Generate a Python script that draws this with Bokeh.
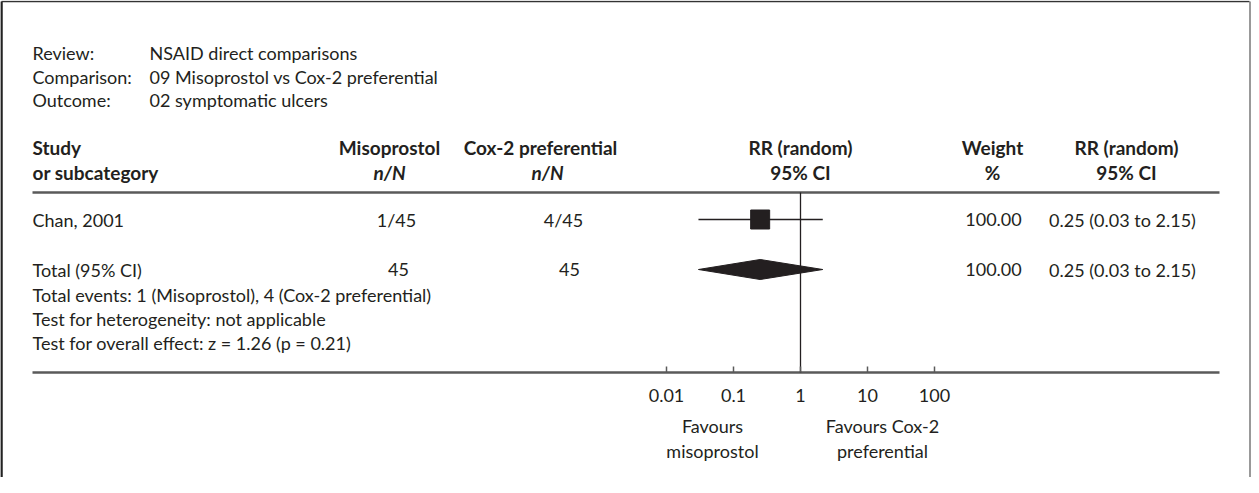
from bokeh.plotting import figure
from bokeh.models import Range1d, LogScale
from bokeh.embed import file_html
from bokeh.resources import INLINE
from bokeh.core.properties import value

# ---- data ----
meta_labels = ["Review:", "Comparison:", "Outcome:"]
meta_values = ["NSAID direct comparisons", "09 Misoprostol vs Cox-2 preferential", "02 symptomatic ulcers"]

studies = ["Chan, 2001"]
miso_nN = ["1/45"]
cox_nN = ["4/45"]
study_rr = [0.25]
study_lo = [0.03]
study_hi = [2.15]
study_weight = ["100.00"]
study_ci_text = ["0.25 (0.03 to 2.15)"]

total_label = "Total (95% CI)"
total_miso = ["45"]
total_cox = ["45"]
pooled_rr = [0.25]
pooled_lo = [0.03]
pooled_hi = [2.15]
pooled_weight = ["100.00"]
pooled_ci_text = ["0.25 (0.03 to 2.15)"]

footnotes = ["Total events: 1 (Misoprostol), 4 (Cox-2 preferential)",
             "Test for heterogeneity: not applicable",
             "Test for overall effect: z = 1.26 (p = 0.21)"]

tick_vals = [0.01, 0.1, 1, 10, 100]
tick_labels = ["0.01", "0.1", "1", "10", "100"]

# ---- layout ----
FONT = value("Lato")
FS = "18px"
FSB = "19px"
TXT = "#231f20"
RULE = "#5a5a5a"

W, H = 1251, 477
p = figure(width=W, height=H, x_range=Range1d(8, 8 + W), y_range=Range1d(8 + H, 8),
           output_backend="svg", toolbar_location=None, min_border=0)
p.axis.visible = False
p.grid.visible = False
p.outline_line_color = None
p.background_fill_color = "white"

# log scale for the forest plot: 1 at x=808, 67 px per decade
ppd, x1 = 67.0, 808.0
p.extra_x_ranges = {"log": Range1d(10 ** ((8 - x1) / ppd), 10 ** ((8 + W - x1) / ppd))}
p.extra_x_scales = {"log": LogScale()}

def txt(x, y, t, align="left", style="normal", x_range_name="default", size=None):
    if size is None:
        size = FSB if "bold" in style else FS
    p.text(x=x, y=y, text=t, text_font=FONT, text_font_size=size, text_align=align,
           text_baseline="middle", text_color=TXT, text_font_style=style,
           x_range_name=x_range_name)

# frame
p.segment(x0=[9], x1=[9], y0=[9], y1=[8 + H], line_color="#222222", line_width=2.5)
p.segment(x0=[9], x1=[1257], y0=[9], y1=[9], line_color="#333333", line_width=1.5)
p.segment(x0=[1257.5], x1=[1257.5], y0=[9], y1=[8 + H], line_color="#777777", line_width=1.5)

# meta lines
meta_y = [60, 84, 107]
txt([40] * 3, meta_y, meta_labels)
txt([157] * 3, meta_y, meta_values)

# headers
hy1, hy2 = 155, 180
txt([40], [hy1], ["Study"], style="bold")
txt([40], [hy2], ["or subcategory"], style="bold")
txt([397], [hy1], ["Misoprostol"], align="center", style="bold")
txt([397], [hy2], ["n/N"], align="center", style="bold italic")
txt([548], [hy1], ["Cox-2 preferential"], align="center", style="bold")
txt([555], [hy2], ["n/N"], align="center", style="bold italic")
txt([808], [hy1], ["RR (random)"], align="center", style="bold")
txt([808], [hy2], ["95% CI"], align="center", style="bold")
txt([1000], [hy1], ["Weight"], align="center", style="bold")
txt([1000], [hy2], ["%"], align="center", style="bold")
txt([1134], [hy1], ["RR (random)"], align="center", style="bold")
txt([1134], [hy2], ["95% CI"], align="center", style="bold")

# rules
p.segment(x0=[40], x1=[1227], y0=[200], y1=[200], line_color=RULE, line_width=2.5)
p.segment(x0=[40], x1=[1227], y0=[380], y1=[380], line_color=RULE, line_width=2.5)

# study rows
row_y = [227]
txt([40] * len(studies), row_y, studies)
txt([404] * len(studies), row_y, miso_nN, align="center")
txt([571] * len(studies), row_y, cox_nN, align="center")
txt([1001] * len(studies), row_y, study_weight, align="center")
txt([1130] * len(studies), row_y, study_ci_text, align="center")
p.segment(x0=study_lo, x1=study_hi, y0=row_y, y1=row_y, line_color=TXT, line_width=1.5,
          x_range_name="log")
p.scatter(x=study_rr, y=row_y, marker="square", size=19, fill_color=TXT, line_color=TXT,
          x_range_name="log")

# total row
ty = 277
txt([40], [ty], [total_label])
txt([406], [ty], total_miso, align="center")
txt([577], [ty], total_cox, align="center")
txt([1001], [ty], pooled_weight, align="center")
txt([1130], [ty], pooled_ci_text, align="center")
p.patch(x=[pooled_lo[0], pooled_rr[0], pooled_hi[0], pooled_rr[0]],
        y=[ty, ty - 10, ty, ty + 10], fill_color=TXT, line_color=TXT, x_range_name="log")

# footnotes
txt([40] * 3, [302, 326, 350], footnotes)

# line of no effect
p.segment(x0=[1], x1=[1], y0=[200], y1=[380], line_color=TXT, line_width=1.3, x_range_name="log")

# axis ticks and labels
p.segment(x0=tick_vals, x1=tick_vals, y0=[374] * 5, y1=[380] * 5, line_color=RULE,
          line_width=1.5, x_range_name="log")
txt(tick_vals, [403] * 5, tick_labels, align="center", x_range_name="log")

# favours labels
txt([720, 720], [433, 458], ["Favours", "misoprostol"], align="center")
txt([890, 890], [433, 458], ["Favours Cox-2", "preferential"], align="center")

open("out.html", "w").write(file_html(p, INLINE))
